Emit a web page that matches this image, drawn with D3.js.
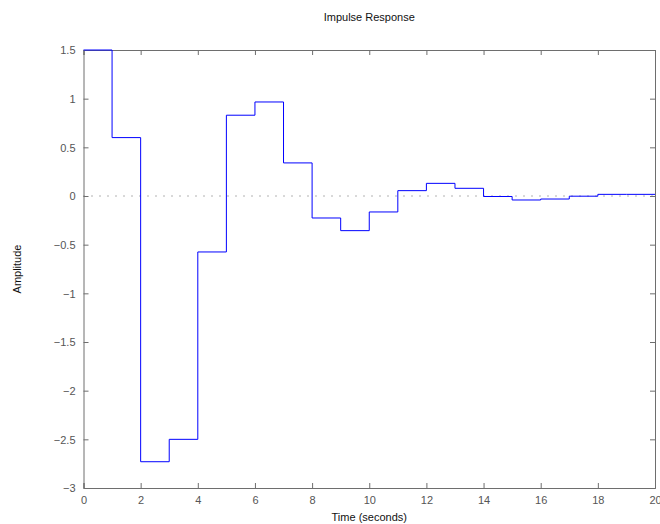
<!DOCTYPE html>
<html><head><meta charset="utf-8">
<script src="https://cdn.jsdelivr.net/npm/d3@7"></script>
<style>body{margin:0;background:#fff}svg{display:block}</style>
</head><body>
<svg id="c" width="660" height="524"></svg>
<script>
const times = [0,1,2,3,4,5,6,7,8,9,10,11,12,13,14,15,16,17,18,19];
const amplitude = [1.5,0.6,-2.73,-2.5,-0.575,0.83,0.966,0.34,-0.226,-0.356,-0.164,0.055,0.13,0.079,-0.005,-0.041,-0.031,-0.002,0.017,0.017];
const xTicks = [0,2,4,6,8,10,12,14,16,18,20];
const yTicks = [1.5,1,0.5,0,-0.5,-1,-1.5,-2,-2.5,-3];
const titleText = "Impulse Response";
const xLabel = "Time (seconds)";
const yLabel = "Amplitude";

const svg = d3.select("#c");
const L = 83.5, R = 655, T = 50, B = 488;
const x = d3.scaleLinear().domain([0,20]).range([L,R]);
const y = d3.scaleLinear().domain([-3,1.5]).range([B,T]);
const axisCol = "#6e6e6e", textCol = "#555";
const font = "Liberation Sans, Arial, Helvetica, sans-serif";

function fmt(v){ return (v<0?"\u2212":"") + d3.format("~g")(Math.abs(v)); }

// zero line
svg.append("line").attr("x1",x(0)).attr("x2",x(20)).attr("y1",y(0)).attr("y2",y(0))
  .attr("stroke","#666").attr("stroke-width",1).attr("stroke-dasharray","1,7");

// axes (ticks inward)
const ax = d3.axisBottom(x).tickValues(xTicks).tickSize(-5).tickPadding(8).tickFormat(fmt);
const gx = svg.append("g").attr("transform",`translate(0,${B})`).call(ax);
const axT = d3.axisTop(x).tickValues(xTicks).tickSize(-5).tickFormat("");
const gxt = svg.append("g").attr("transform",`translate(0,${T})`).call(axT);
const ay = d3.axisLeft(y).tickValues(yTicks).tickSize(-5).tickPadding(8).tickFormat(fmt);
const gy = svg.append("g").attr("transform",`translate(${L},0)`).call(ay);
const ayR = d3.axisRight(y).tickValues(yTicks).tickSize(-5).tickFormat("");
const gyr = svg.append("g").attr("transform",`translate(${R},0)`).call(ayR);
[gx,gxt,gy,gyr].forEach(g=>{
  g.selectAll("path").attr("stroke",axisCol);
  g.selectAll("line").attr("stroke",axisCol);
  g.selectAll("text").attr("fill",textCol).style("font-family",font).style("font-size","11px");
});
gy.selectAll("text").attr("dy","0.35em");

// stair line
const pts = times.map((t,i)=>[t,amplitude[i]]);
pts.push([20, amplitude[amplitude.length-1]]);
svg.append("path").datum(pts)
  .attr("d", d3.line().x(d=>x(d[0])).y(d=>y(d[1])).curve(d3.curveStepAfter))
  .attr("fill","none").attr("stroke","#0000ff").attr("stroke-width",1);

// texts
svg.append("text").attr("x",(L+R)/2).attr("y",21).attr("text-anchor","middle")
  .style("font-family",font).style("font-size","11px").attr("fill","#111").text(titleText);
svg.append("text").attr("x",(L+R)/2).attr("y",521).attr("text-anchor","middle")
  .style("font-family",font).style("font-size","11px").attr("fill","#111").text(xLabel);
svg.append("text").attr("transform",`translate(21,${(T+B)/2}) rotate(-90)`).attr("text-anchor","middle")
  .style("font-family",font).style("font-size","11px").attr("fill","#111").text(yLabel);
</script>
</body></html>
